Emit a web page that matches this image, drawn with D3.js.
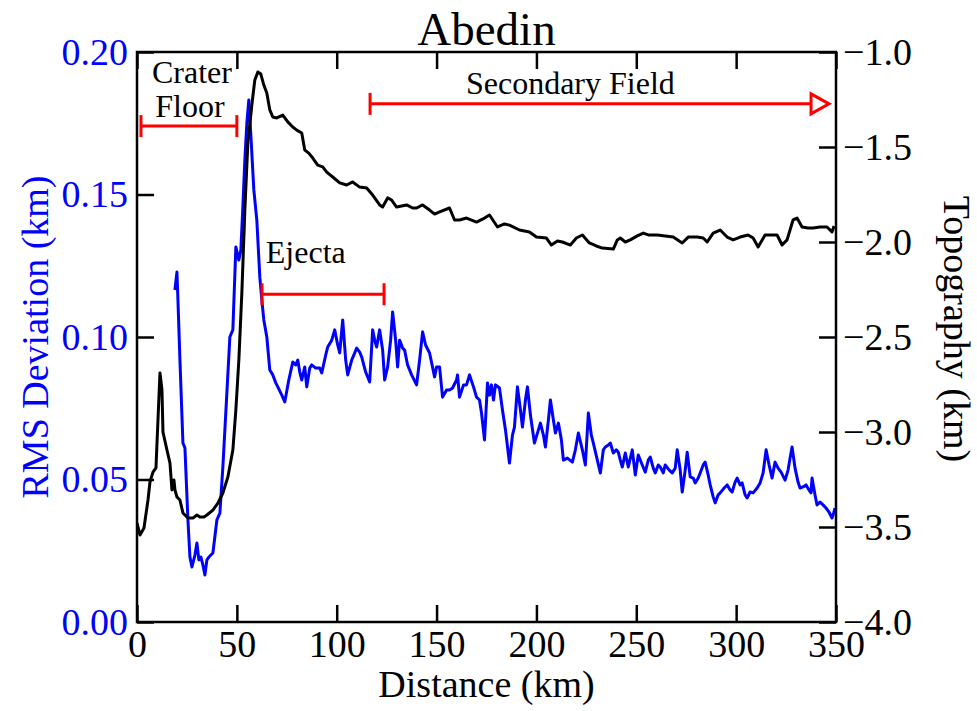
<!DOCTYPE html>
<html><head><meta charset="utf-8">
<script src="https://cdn.jsdelivr.net/npm/d3@7"></script>
<style>body{margin:0;background:#fff}svg{display:block}text{font-family:"Liberation Serif","Times New Roman",serif}</style>
</head><body><svg id="c" width="977" height="711"></svg>
<script>
// ---- data ----
const title = "Abedin";
const xTicks = [0,50,100,150,200,250,300,350];
const rmsTicks = [0.00,0.05,0.10,0.15,0.20];
const topoTicks = [-4.0,-3.5,-3.0,-2.5,-2.0,-1.5,-1.0];

const topoDist = [0,1.5,3.5,5.5,6.5,8,9.5,10.5,11.5,12.5,13,15,16.5,17.5,18.5,19,20,21.5,23,25.5,28,30,31.5,33.5,35,38,40.5,43,45.5,48,49.5,51,52.5,54,55.5,57.5,59,60.5,62,63.5,65,66.5,68,70,73,75.5,78,80,82.5,84,86,88,90.5,93,95,98,101.5,105,108,111.5,115,118,121.5,123,125.5,127.5,130,135,138,140,143,146.5,149,151.5,156.5,159,161.5,165,170,174,176.5,180.5,184,186.5,191.5,196.5,200,205,207.5,210.5,213,217,220,223,226.5,230,233,238.5,240.5,242,244.5,247,250.5,253.5,256,260.5,264.5,268.5,273,276,280.5,283.5,285.5,288.5,292,295.5,298.5,302,306,308.5,311,314.5,320.5,323,325.5,328.5,330.5,333,336,338.5,342,345.5,348,349];
const topoVal = [-3.479,-3.542,-3.505,-3.358,-3.263,-3.211,-3.189,-2.937,-2.689,-2.779,-3.0,-3.095,-3.163,-3.305,-3.253,-3.305,-3.342,-3.358,-3.426,-3.453,-3.453,-3.437,-3.447,-3.447,-3.437,-3.411,-3.374,-3.321,-3.237,-3.095,-2.884,-2.621,-2.268,-1.832,-1.479,-1.279,-1.147,-1.105,-1.116,-1.174,-1.216,-1.305,-1.342,-1.347,-1.332,-1.368,-1.395,-1.411,-1.426,-1.516,-1.532,-1.558,-1.595,-1.605,-1.632,-1.658,-1.689,-1.7,-1.684,-1.711,-1.716,-1.753,-1.805,-1.816,-1.768,-1.779,-1.816,-1.805,-1.821,-1.821,-1.805,-1.832,-1.853,-1.842,-1.821,-1.884,-1.884,-1.874,-1.895,-1.874,-1.858,-1.921,-1.905,-1.911,-1.937,-1.947,-1.974,-1.979,-2.016,-1.995,-2.0,-2.016,-1.979,-1.963,-2.005,-2.021,-2.032,-2.037,-1.989,-1.979,-2.0,-1.989,-1.968,-1.953,-1.963,-1.963,-1.968,-1.974,-2.005,-1.974,-1.974,-1.979,-2.0,-1.953,-1.937,-1.974,-1.989,-1.974,-1.963,-1.979,-2.026,-1.963,-1.963,-2.016,-1.989,-1.884,-1.874,-1.921,-1.926,-1.926,-1.921,-1.921,-1.947,-1.916];

const rmsDist = [19,20,20.5,21.5,23,24,25.5,26.5,27.5,29,30,31,32,33,34,35,36,38,40,41.5,43,45,46.5,48,49.5,51,52,53,54,55,56,57,58.5,60,61.5,62.5,63.5,65,66.5,68,69.5,70.5,72.5,74,76,78,79.5,80.5,81.5,82.5,84,85,86.5,87.5,89.5,91.5,92.5,94.5,95.5,97.5,99,100.5,101.5,103,104.5,105.5,107.5,110,111.5,112.5,114.5,116.5,118,119,120,121.5,123,124,125.5,127,128,129.5,130.5,131.5,133,134,135.5,137.5,140,141.5,143,144.5,146.5,149,150,151.5,153,155,156.5,158,160,160.5,161.5,163.5,165,166.5,168.5,170,171.5,172.5,174,175.5,176.5,177.5,178.5,179.5,181.5,183,184.5,186.5,188,189,190.5,192,193,194.5,195.5,197,199,201,202,203.5,204.5,206,207,208.5,209.5,211,212.5,213.5,215.5,218,219.5,221,223,224.5,226,227.5,228.5,230.5,232,233.5,234.5,236,237,238.5,240,241,242,243,244.5,246,248,249.5,251,253,254.5,256,257,258.5,259.5,261,262,263.5,264.5,266.5,268,269.5,270.5,272,273,274.5,275.5,277,278.5,279.5,281,282,283.5,284.5,286,287,288.5,289.5,291,292,294,295.5,297,298,299.5,300.5,302,303,304.5,305.5,307,308.5,310.5,312,313.5,315,316.5,318,319.5,321,322.5,324.5,326,327,328,329.5,331,332,333.5,335,336.5,337.5,338,339.5,340.5,342,343.5,345,346.5,348,349,349.5];
const rmsVal = [0.1165,0.1228,0.113,0.0919,0.0628,0.0611,0.0358,0.0228,0.0193,0.0235,0.0277,0.0218,0.0228,0.02,0.0165,0.0218,0.0228,0.0242,0.0358,0.0382,0.0544,0.0804,0.1,0.1025,0.1316,0.127,0.1305,0.1456,0.1621,0.1751,0.1832,0.1709,0.1516,0.141,0.121,0.113,0.106,0.1,0.0884,0.0867,0.0839,0.0825,0.0796,0.0772,0.0849,0.0912,0.0902,0.0919,0.0877,0.0849,0.0895,0.0825,0.0891,0.0902,0.0891,0.0891,0.0874,0.0937,0.0965,0.0989,0.1025,0.0972,0.0944,0.106,0.0919,0.0867,0.0919,0.0961,0.0947,0.093,0.0877,0.0842,0.1025,0.0989,0.0965,0.1025,0.0954,0.0849,0.0895,0.0989,0.1088,0.0989,0.0895,0.0989,0.0961,0.0954,0.0902,0.0867,0.0832,0.0919,0.1018,0.0972,0.0944,0.086,0.0895,0.0895,0.0789,0.0814,0.0814,0.0821,0.0849,0.0867,0.0789,0.0832,0.0832,0.0867,0.0825,0.0789,0.0779,0.0733,0.0639,0.0839,0.0796,0.0832,0.0779,0.0832,0.0821,0.0744,0.0674,0.0558,0.0656,0.0684,0.0825,0.0744,0.0684,0.0779,0.0825,0.0726,0.0628,0.0674,0.0698,0.0656,0.0614,0.0709,0.0779,0.0709,0.0663,0.0698,0.0639,0.0568,0.0575,0.0561,0.0604,0.0663,0.0604,0.0551,0.0733,0.0656,0.0628,0.0568,0.0523,0.0604,0.0614,0.0621,0.0628,0.0593,0.0604,0.0596,0.0568,0.0544,0.0593,0.0544,0.0604,0.0516,0.0586,0.0551,0.0526,0.0568,0.0579,0.054,0.0523,0.0551,0.0544,0.0523,0.0551,0.0533,0.0523,0.054,0.0604,0.0533,0.0456,0.0533,0.0596,0.0509,0.0505,0.0488,0.0505,0.0523,0.0551,0.0561,0.0516,0.0481,0.0439,0.0418,0.0446,0.0453,0.047,0.0481,0.0463,0.0456,0.0491,0.0505,0.0481,0.0488,0.0446,0.0435,0.0456,0.0453,0.047,0.0488,0.0523,0.0604,0.0551,0.0505,0.0561,0.054,0.0526,0.0498,0.0533,0.0575,0.0614,0.054,0.0491,0.047,0.0474,0.0481,0.0463,0.0453,0.0505,0.0446,0.0411,0.0421,0.0411,0.04,0.0386,0.0365,0.0386,0.04];

// annotation labels
const annoLabels = ["Crater Floor", "Ejecta", "Secondary Field"];

// ---- chart ----
const W = 977, H = 711;
const m = {l:137, r:141, t:52, b:89};
const svg = d3.select("#c");
const x = d3.scaleLinear().domain([0,350]).range([m.l, W-m.r]);
const yL = d3.scaleLinear().domain([0,0.2]).range([H-m.b, m.t]);
const yR = d3.scaleLinear().domain([-4,-1]).range([H-m.b, m.t]);
const blue = "#0000ff", red = "#ff0000";
const TL = 17;

const clipId = "clp";
svg.append("clipPath").attr("id",clipId).append("rect")
  .attr("x",m.l).attr("y",m.t).attr("width",W-m.l-m.r).attr("height",H-m.t-m.b);

svg.append("path")
  .datum(rmsDist.map((d,i)=>[d,rmsVal[i]]))
  .attr("fill","none").attr("stroke",blue).attr("stroke-width",3)
  .attr("stroke-linejoin","round").attr("clip-path",`url(#${clipId})`)
  .attr("d", d3.line().x(d=>x(d[0])).y(d=>yL(d[1])));

svg.append("path")
  .datum(topoDist.map((d,i)=>[d,topoVal[i]]))
  .attr("fill","none").attr("stroke","#000").attr("stroke-width",3)
  .attr("stroke-linejoin","round").attr("clip-path",`url(#${clipId})`)
  .attr("d", d3.line().x(d=>x(d[0])).y(d=>yR(d[1])));

function styleAxis(g, col, fs){
  g.select(".domain").remove();
  g.selectAll(".tick line").attr("stroke","#000").attr("stroke-width",2.5);
  g.selectAll(".tick text").attr("fill",col).attr("font-size",fs).attr("font-family","Liberation Serif");
}
const gx = svg.append("g").attr("transform",`translate(0,${H-m.b})`)
  .call(d3.axisBottom(x).tickValues(xTicks).tickSize(-TL).tickPadding(8).tickFormat(d3.format("d")));
styleAxis(gx,"#000",38);
const gxt = svg.append("g").attr("transform",`translate(0,${m.t})`)
  .call(d3.axisTop(x).tickValues(xTicks).tickSize(-TL).tickFormat(""));
styleAxis(gxt,"#000",38);
const gl = svg.append("g").attr("transform",`translate(${m.l},0)`)
  .call(d3.axisLeft(yL).tickValues(rmsTicks).tickSize(-TL).tickPadding(9).tickFormat(d3.format(".2f")));
styleAxis(gl,blue,38);
const gr = svg.append("g").attr("transform",`translate(${W-m.r},0)`)
  .call(d3.axisRight(yR).tickValues(topoTicks).tickSize(-TL).tickPadding(7).tickFormat(d3.format(".1f")));
styleAxis(gr,"#000",38);

svg.append("rect").attr("x",m.l).attr("y",m.t).attr("width",W-m.l-m.r).attr("height",H-m.t-m.b)
  .attr("fill","none").attr("stroke","#000").attr("stroke-width",2.5);

svg.append("text").attr("x",(m.l+W-m.r)/2).attr("y",45).attr("text-anchor","middle")
  .attr("font-size",47).text(title);
svg.append("text").attr("x",(m.l+W-m.r)/2).attr("y",697).attr("text-anchor","middle")
  .attr("font-size",38).text("Distance (km)");
svg.append("text").attr("transform",`translate(48,${(m.t+H-m.b)/2}) rotate(-90)`)
  .attr("text-anchor","middle").attr("fill",blue).attr("font-size",38).text("RMS Deviation (km)");
svg.append("text").attr("transform",`translate(944,329) rotate(90)`)
  .attr("text-anchor","middle").attr("font-size",38).text("Topography (km)");

const ann = svg.append("g").attr("stroke",red).attr("stroke-width",3).attr("fill","none");
function bracket(a,b,lev,capR){
  const yy = yL(lev);
  ann.append("line").attr("x1",x(a)).attr("x2",x(b)).attr("y1",yy).attr("y2",yy);
  ann.append("line").attr("x1",x(a)).attr("x2",x(a)).attr("y1",yy-11).attr("y2",yy+11);
  if(capR) ann.append("line").attr("x1",x(b)).attr("x2",x(b)).attr("y1",yy-11).attr("y2",yy+11);
}
bracket(2,50,0.174,true);
bracket(62.6,123.7,0.115,true);
bracket(116.7,338,0.1818,false);
{
  const yy = yL(0.1818), tip = x(346.5), base = x(337.5);
  ann.append("path").attr("d",`M${base},${yy-10}L${tip},${yy}L${base},${yy+10}Z`).attr("fill","#fff");
}
const ta = svg.append("g").attr("font-size",32).attr("fill","#000");
ta.append("text").attr("x",x(27.5)).attr("y",83).attr("text-anchor","middle").text(annoLabels[0].split(" ")[0]);
ta.append("text").attr("x",x(26.5)).attr("y",117).attr("text-anchor","middle").text(annoLabels[0].split(" ")[1]);
ta.append("text").attr("x",x(64.5)).attr("y",263).attr("text-anchor","start").text(annoLabels[1]);
ta.append("text").attr("x",x(217)).attr("y",94).attr("text-anchor","middle").text(annoLabels[2]);
</script></body></html>
